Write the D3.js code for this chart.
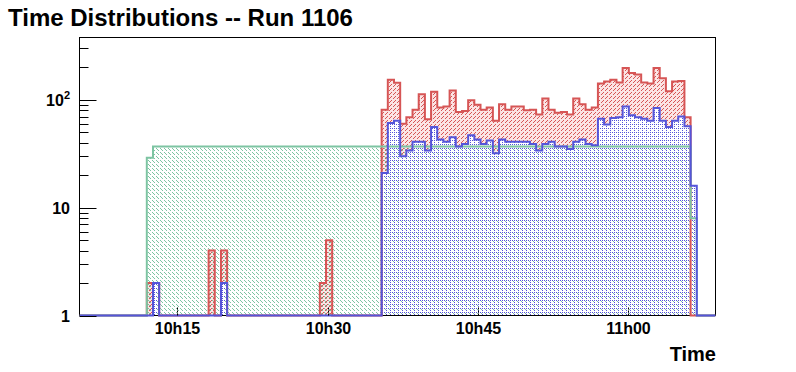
<!DOCTYPE html>
<html>
<head>
<meta charset="utf-8">
<script src="https://cdn.jsdelivr.net/npm/d3@7"></script>
<style>
  body { margin: 0; background: #fff; }
  svg { display: block; font-family: "Liberation Sans", Arial, Helvetica, sans-serif; font-weight: bold; }
</style>
</head>
<body>
<svg id="chart" width="796" height="372"></svg>
<script>
const chartTitle = "Time Distributions -- Run 1106";
const axisTitle = "Time";
const timeRange = ["10:05:14", "11:08:42"];
const binStart = "10:11:57";
const binSeconds = 37;
const xTicks = ["10:15:00", "10:30:00", "10:45:00", "11:00:00"];
const xTickLabels = ["10h15", "10h30", "10h45", "11h00"];
const yMajorTicks = [1, 10, 100];
const yMinorTicks = [2, 3, 4, 5, 6, 7, 8, 9, 20, 30, 40, 50, 60, 70, 80, 90, 200, 300];
const yMax = 379;

// counts per 37 s bin, starting at binStart
const redCounts = [
  2, 2, 0, 0, 0, 0, 0, 0, 0, 0,
  4, 0, 4, 0, 0, 0, 0, 0, 0, 0,
  0, 0, 0, 0, 0, 0, 0, 0, 2, 5,
  0, 0, 0, 0, 0, 0, 0, 0, 81, 154,
  144, 60, 69, 81, 113, 66, 119, 85, 87, 122,
  77, 79, 99, 90, 81, 85, 64, 91, 81, 87,
  87, 80, 81, 73, 103, 81, 76, 77, 73, 103,
  91, 81, 85, 142, 148, 154, 145, 198, 178, 172,
  145, 142, 198, 159, 120, 148, 150, 69, 0
];
const greenCounts = [
  29, 37, 37, 37, 37, 37, 37, 37, 37, 37,
  37, 37, 37, 37, 37, 37, 37, 37, 37, 37,
  37, 37, 37, 37, 37, 37, 37, 37, 37, 37,
  37, 37, 37, 37, 37, 37, 37, 37, 37, 37,
  37, 37, 37, 37, 37, 37, 37, 37, 37, 37,
  37, 37, 37, 37, 37, 37, 37, 37, 37, 37,
  37, 37, 37, 37, 37, 37, 37, 37, 37, 37,
  37, 37, 37, 37, 37, 37, 37, 37, 37, 37,
  37, 37, 37, 37, 37, 37, 37, 37, 8
];
const blueCounts = [
  0, 2, 0, 0, 0, 0, 0, 0, 0, 0,
  0, 0, 2, 0, 0, 0, 0, 0, 0, 0,
  0, 0, 0, 0, 0, 0, 0, 0, 0, 0,
  0, 0, 0, 0, 0, 0, 0, 0, 21, 61,
  64, 30, 34, 41, 41, 34, 56, 43, 41, 45,
  37, 39, 47, 43, 39, 42, 32, 43, 41, 41,
  41, 41, 39, 34, 39, 41, 37, 37, 35, 41,
  43, 39, 38, 67, 59, 68, 69, 87, 72, 69,
  67, 64, 84, 64, 56, 64, 70, 57, 16
];

const svg = d3.select("#chart");
const frameLeft = 79.5, frameRight = 715.5, frameTop = 37.5, frameBottom = 315.5;
const parseTime = d3.utcParse("%H:%M:%S");

const x = d3.scaleUtc().domain(timeRange.map(parseTime)).range([frameLeft, frameRight]);
const y = d3.scaleLog().domain([1, yMax]).range([frameBottom, frameTop]);

// hatch patterns (pixel tiles on a tinted background)
const defs = svg.append("defs");
function addPattern(id, color, tint, pixels, size) {
  const p = defs.append("pattern")
    .attr("id", id)
    .attr("patternUnits", "userSpaceOnUse")
    .attr("width", size).attr("height", size);
  if (tint) {
    p.append("rect").attr("width", size).attr("height", size).attr("fill", tint);
  }
  pixels.forEach(([px, py]) => {
    p.append("rect").attr("x", px).attr("y", py)
      .attr("width", 1).attr("height", 1)
      .attr("fill", color).attr("shape-rendering", "crispEdges");
  });
}
const redColor = "#d65555", greenColor = "#7dc4a2", blueColor = "#5555d9";
addPattern("hatchRed", redColor, "rgba(230,90,90,0.16)", [[3, 0], [2, 1], [1, 2]], 4);
addPattern("hatchGreen", greenColor, null, [[0, 0], [1, 1], [2, 2]], 4);
addPattern("hatchBlue", blueColor, null, [[0, 0], [2, 2], [2, 0]], 4);

defs.append("clipPath").attr("id", "frameClip")
  .append("rect")
  .attr("x", frameLeft).attr("y", frameTop)
  .attr("width", frameRight - frameLeft).attr("height", frameBottom - frameTop + 2);

function histPoints(counts, under) {
  const t0 = parseTime(binStart);
  const pts = [{ t: x.domain()[0], v: 0, u: 0 }];
  counts.forEach((v, i) => pts.push({
    t: d3.utcSecond.offset(t0, i * binSeconds),
    v: v,
    u: under ? Math.min(under[i], v) : 0
  }));
  pts.push({ t: d3.utcSecond.offset(t0, counts.length * binSeconds), v: 0, u: 0 });
  pts.push({ t: x.domain()[1], v: 0, u: 0 });
  return pts;
}
const yv = (v) => (v >= 1 ? y(v) : frameBottom);

const area = d3.area()
  .curve(d3.curveStepAfter)
  .x((d) => x(d.t))
  .y0((d) => yv(d.u))
  .y1((d) => yv(d.v));
const line = d3.line()
  .curve(d3.curveStepAfter)
  .x((d) => x(d.t))
  .y((d) => yv(d.v));

const plot = svg.append("g").attr("clip-path", "url(#frameClip)");

// red hatch is only visible above the blue histogram
const series = [
  { counts: redCounts, under: blueCounts, color: redColor, fill: "url(#hatchRed)" },
  { counts: greenCounts, under: null, color: greenColor, fill: "url(#hatchGreen)" },
  { counts: blueCounts, under: null, color: blueColor, fill: "url(#hatchBlue)" },
];
series.forEach((s) => {
  plot.append("path").attr("d", area(histPoints(s.counts, s.under))).attr("fill", s.fill);
});

// frame
svg.append("rect")
  .attr("x", frameLeft).attr("y", frameTop)
  .attr("width", frameRight - frameLeft).attr("height", frameBottom - frameTop)
  .attr("fill", "none").attr("stroke", "#000").attr("stroke-width", 1);

const lines = svg.append("g").attr("clip-path", "url(#frameClip)");
series.forEach((s) => {
  lines.append("path").attr("d", line(histPoints(s.counts)))
    .attr("fill", "none").attr("stroke", s.color).attr("stroke-width", 2);
});

// y axis ticks
const yAxis = svg.append("g");
yMajorTicks.forEach((v) => {
  yAxis.append("line").attr("x1", frameLeft).attr("x2", frameLeft + 17)
    .attr("y1", Math.round(y(v)) + 0.5).attr("y2", Math.round(y(v)) + 0.5)
    .attr("stroke", "#000");
});
yMinorTicks.filter((v) => v <= yMax).forEach((v) => {
  yAxis.append("line").attr("x1", frameLeft).attr("x2", frameLeft + 9)
    .attr("y1", Math.round(y(v)) + 0.5).attr("y2", Math.round(y(v)) + 0.5)
    .attr("stroke", "#000");
});
yMajorTicks.forEach((v) => {
  const t = yAxis.append("text")
    .attr("x", 70).attr("y", y(v) + 6)
    .attr("text-anchor", "end")
    .attr("font-size", 16);
  if (v >= 100) {
    t.append("tspan").text("10");
    t.append("tspan").attr("dy", -7).attr("font-size", 11).text(String(Math.log10(v)));
  } else {
    t.text(String(v));
  }
});

// x axis ticks
const xAxis = svg.append("g");
xTicks.forEach((s, i) => {
  const xp = Math.round(x(parseTime(s))) + 0.5;
  xAxis.append("line").attr("x1", xp).attr("x2", xp)
    .attr("y1", frameBottom).attr("y2", frameBottom - 8)
    .attr("stroke", "#000").attr("stroke-dasharray", "2,1");
  xAxis.append("text")
    .attr("x", xp).attr("y", 334)
    .attr("text-anchor", "middle")
    .attr("font-size", 16)
    .text(xTickLabels[i]);
});

svg.append("text")
  .attr("x", 716).attr("y", 361)
  .attr("text-anchor", "end")
  .attr("font-size", 20)
  .text(axisTitle);

svg.append("text")
  .attr("x", 8).attr("y", 26)
  .attr("font-size", 24)
  .text(chartTitle);
</script>
</body>
</html>
